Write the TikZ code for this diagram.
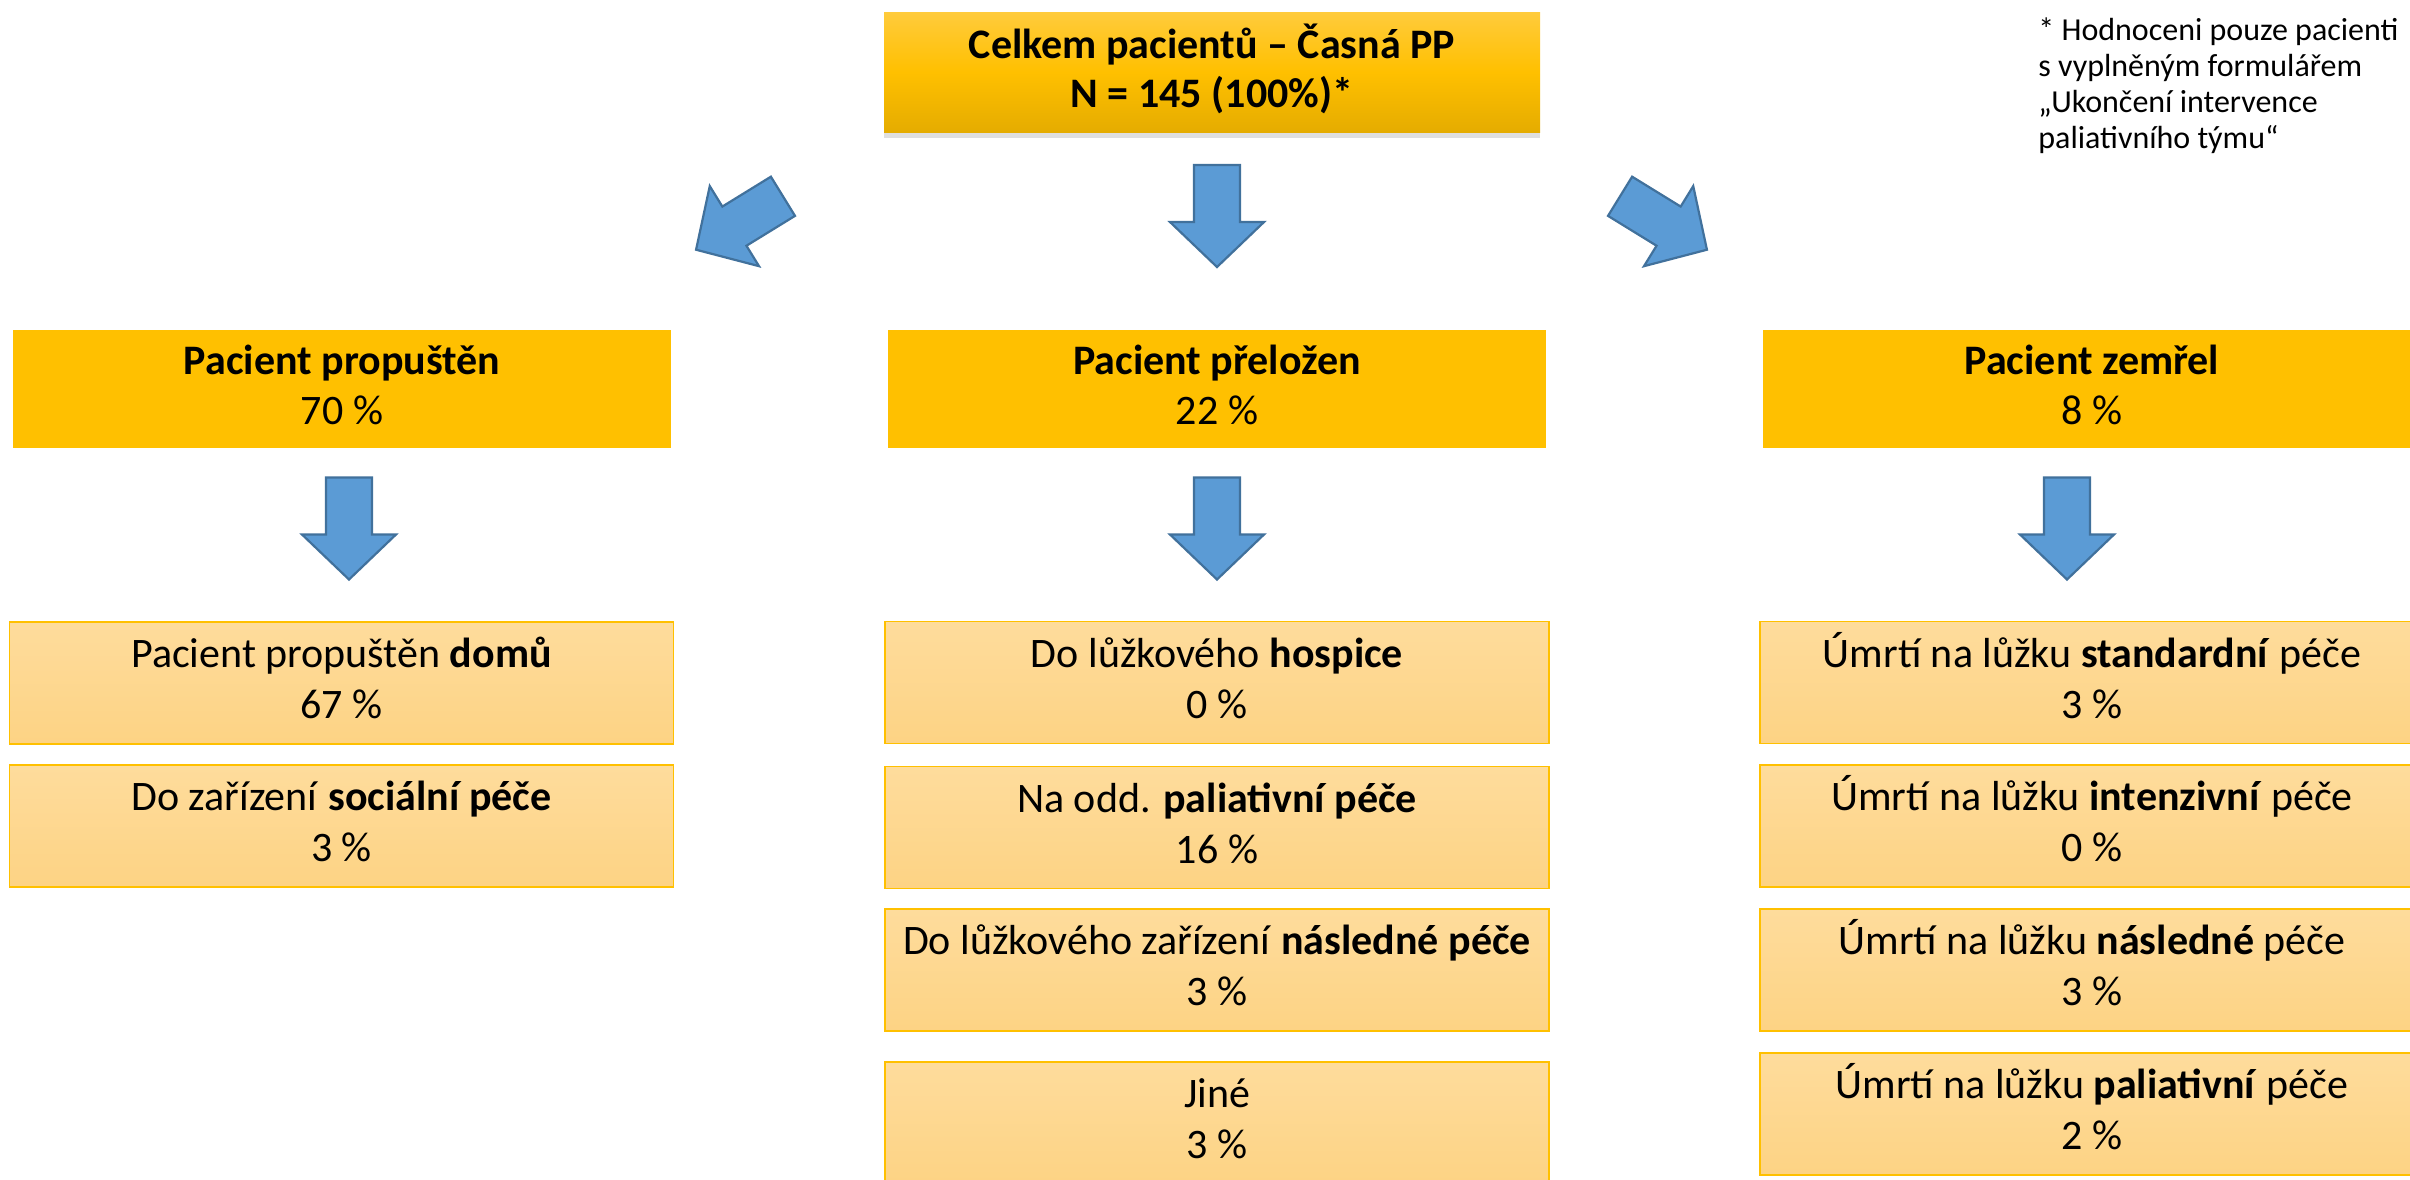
\documentclass[tikz,border=0pt]{standalone}
\usepackage{fontspec}
\setmainfont{Carlito}
\usetikzlibrary{shadows}
\definecolor{gold}{HTML}{FFC000}
\definecolor{goldtop}{HTML}{FFCB3C}
\definecolor{golddark}{HTML}{E5AC00}
\definecolor{lighttop}{HTML}{FEDC9C}
\definecolor{lightbot}{HTML}{FDD384}
\definecolor{arrowfill}{HTML}{5B9BD5}
\definecolor{arrowline}{HTML}{41719C}
% two-line label with fixed baseline distance; optional arg = 2 x downward shift
\newcommand\vst[3][0pt]{\begin{tabular}{@{}c@{}}\rule{0pt}{\dimexpr0.3\baselineskip+0.632em+#1\relax}\smash{#2}\\\smash{#3}\end{tabular}}
\newcommand\vnote[4]{\begin{tabular}{@{}l@{}}\smash{#1}\\\smash{#2}\\\smash{#3}\\\smash{#4}\end{tabular}}
\tikzset{
  topbox/.style={rectangle, minimum width=328pt, minimum height=60pt, inner sep=0pt,
    top color=goldtop, bottom color=golddark, middle color=gold, draw=none,
    align=center, font=\fontsize{21}{24.5}\selectfont\bfseries,
    drop shadow={shadow xshift=0pt, shadow yshift=-3pt, opacity=0.25}},
  midbox/.style={rectangle, minimum width=329pt, minimum height=59pt, inner sep=0pt,
    fill=gold, draw=none, align=center, font=\fontsize{21}{25}\selectfont},
  leafbox/.style={rectangle, minimum width=332pt, minimum height=61pt, inner sep=0pt,
    top color=lighttop, bottom color=lightbot, draw=gold, line width=0.8pt,
    align=center, font=\fontsize{21}{25.5}\selectfont},
  notetext/.style={align=left, inner sep=0pt, anchor=north west,
    font=\fontsize{16}{18}\selectfont},
  arrowshape/.style={fill=arrowfill, draw=arrowline, line width=1.1pt, line join=miter},
  barrow/.pic={\path[arrowshape] (-23,-51) -- (23,-51) -- (23,6) -- (47,6) -- (0,51)
     -- (-47,6) -- (-23,6) -- cycle;}
}
\begin{document}
\begin{tikzpicture}[x=0.5pt,y=-0.5pt]
\useasboundingbox (0,0) rectangle (2410,1179);
\clip (0,0) rectangle (2410,1179);
\fill[white] (0,0) rectangle (2410,1179);

% top
\node[topbox] (top) at (1212,72) {\vst[5pt]{Celkem pacientů – Časná PP}{N = 145 (100\%)*}};

% note
\node[notetext] (note) at (2038,15) {\vnote{* Hodnoceni pouze pacienti}{s vyplněným formulářem}{„Ukončení intervence}{paliativního týmu“}};

% top arrows
\pic[rotate=-58.4] (a1) at (739.5,223) {barrow};
\pic (a2) at (1217,216) {barrow};
\pic[rotate=58.4] (a3) at (1663.5,223) {barrow};

% second level
\node[midbox] (left) at (342,389) {\vst{\textbf{Pacient propuštěn}}{70 \%}};
\node[midbox] (mid) at (1217,389) {\vst{\textbf{Pacient přeložen}}{22 \%}};
\node[midbox] (right) at (2092,389) {\vst{\textbf{Pacient zemřel}}{8 \%}};

% second level arrows
\pic (b1) at (349,528.5) {barrow};
\pic (b2) at (1217,528.5) {barrow};
\pic (b3) at (2067,528.5) {barrow};

% left leaves
\node[leafbox] (l1) at (341.5,683) {\vst[1pt]{Pacient propuštěn \textbf{domů}}{67 \%}};
\node[leafbox] (l2) at (341.5,826) {\vst[1pt]{Do zařízení \textbf{sociální péče}}{3 \%}};

% middle leaves
\node[leafbox] (m1) at (1217,682.5) {\vst[1pt]{Do lůžkového \textbf{hospice}}{0 \%}};
\node[leafbox] (m2) at (1217,827.5) {\vst[1pt]{Na odd. \textbf{paliativní péče}}{16 \%}};
\node[leafbox] (m3) at (1217,970) {\vst[1pt]{Do lůžkového zařízení \textbf{následné péče}}{3 \%}};
\node[leafbox] (m4) at (1217,1123) {\vst[1pt]{Jiné}{3 \%}};

% right leaves
\node[leafbox] (r1) at (2092,682.5) {\vst[1pt]{Úmrtí na lůžku \textbf{standardní} péče}{3 \%}};
\node[leafbox] (r2) at (2092,826) {\vst[1pt]{Úmrtí na lůžku \textbf{intenzivní} péče}{0 \%}};
\node[leafbox] (r3) at (2092,970) {\vst[1pt]{Úmrtí na lůžku \textbf{následné} péče}{3 \%}};
\node[leafbox] (r4) at (2092,1114) {\vst[1pt]{Úmrtí na lůžku \textbf{paliativní} péče}{2 \%}};
\end{tikzpicture}
\end{document}
